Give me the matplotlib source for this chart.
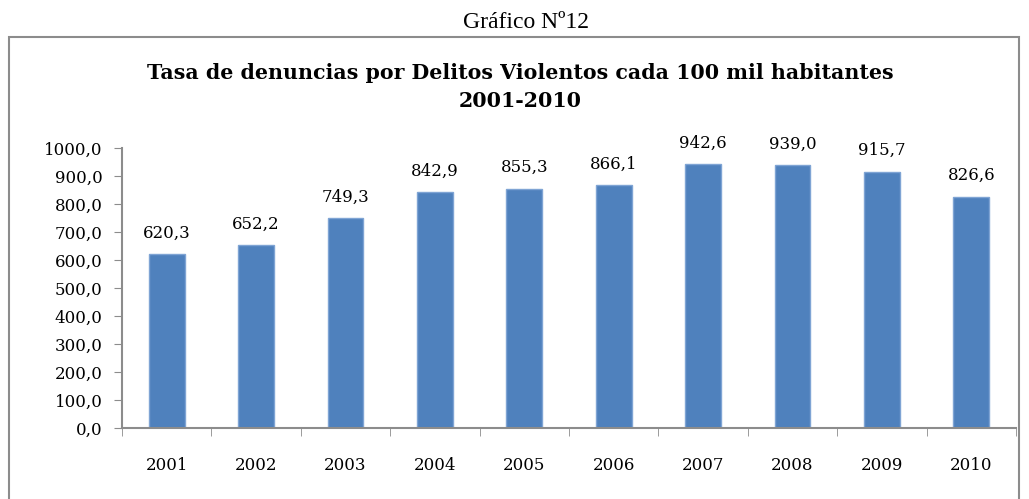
import matplotlib.pyplot as plt
from matplotlib.patches import Rectangle

anios = ['2001', '2002', '2003', '2004', '2005', '2006', '2007', '2008', '2009', '2010']
tasa = [620.3, 652.2, 749.3, 842.9, 855.3, 866.1, 942.6, 939.0, 915.7, 826.6]

plt.rcParams['font.family'] = ['DejaVu Serif']

W, H = 1029, 499
fig = plt.figure(figsize=(W / 100, H / 100), dpi=100)

# marco del grafico
fig.patches.append(Rectangle((9 / W, -0.1), (1019 - 9) / W, 1.1 - 37 / H,
                             transform=fig.transFigure, fill=False,
                             edgecolor='#8c8c8c', linewidth=1.5))

fig.text(526 / W, 1 - 22 / H, 'Gráfico Nº12', ha='center', va='center',
         fontsize=17, family='Liberation Serif')
fig.text(520 / W, 1 - 73 / H, 'Tasa de denuncias por Delitos Violentos cada 100 mil habitantes',
         ha='center', va='center', fontsize=14.8, fontweight='bold')
fig.text(520 / W, 1 - 101 / H, '2001-2010', ha='center', va='center',
         fontsize=14.8, fontweight='bold')

ax = fig.add_axes([122 / W, 1 - 428 / H, (1016 - 122) / W, (428 - 148) / H])
x = list(range(len(anios)))
ax.bar(x, tasa, width=0.4, color='#4f81bd', edgecolor='#7fa4d4', linewidth=1)
for xi, v in zip(x, tasa):
    ax.text(xi, v + 45, f'{v:.1f}'.replace('.', ','), ha='center', va='bottom', fontsize=12)

ax.set_xlim(-0.5, len(anios) - 0.5)
ax.set_ylim(0, 1000)
ax.set_yticks(range(0, 1001, 100))
ax.set_yticklabels([f'{v},0' for v in range(0, 1001, 100)], fontsize=12)
ax.set_xticks(x)
ax.set_xticklabels(anios, fontsize=12)
ax.tick_params(axis='x', length=0, pad=21)
ax.set_xticks([i - 0.5 for i in range(len(anios) + 1)], minor=True)
ax.tick_params(axis='x', which='minor', length=6, color='#8c8c8c', direction='out')
ax.tick_params(axis='y', length=6, color='#8c8c8c', pad=8)
for s in ['top', 'right']:
    ax.spines[s].set_visible(False)
for s in ['left', 'bottom']:
    ax.spines[s].set_color('#8c8c8c')
    ax.spines[s].set_linewidth(1.5)

fig.savefig('out.png', dpi=100)
